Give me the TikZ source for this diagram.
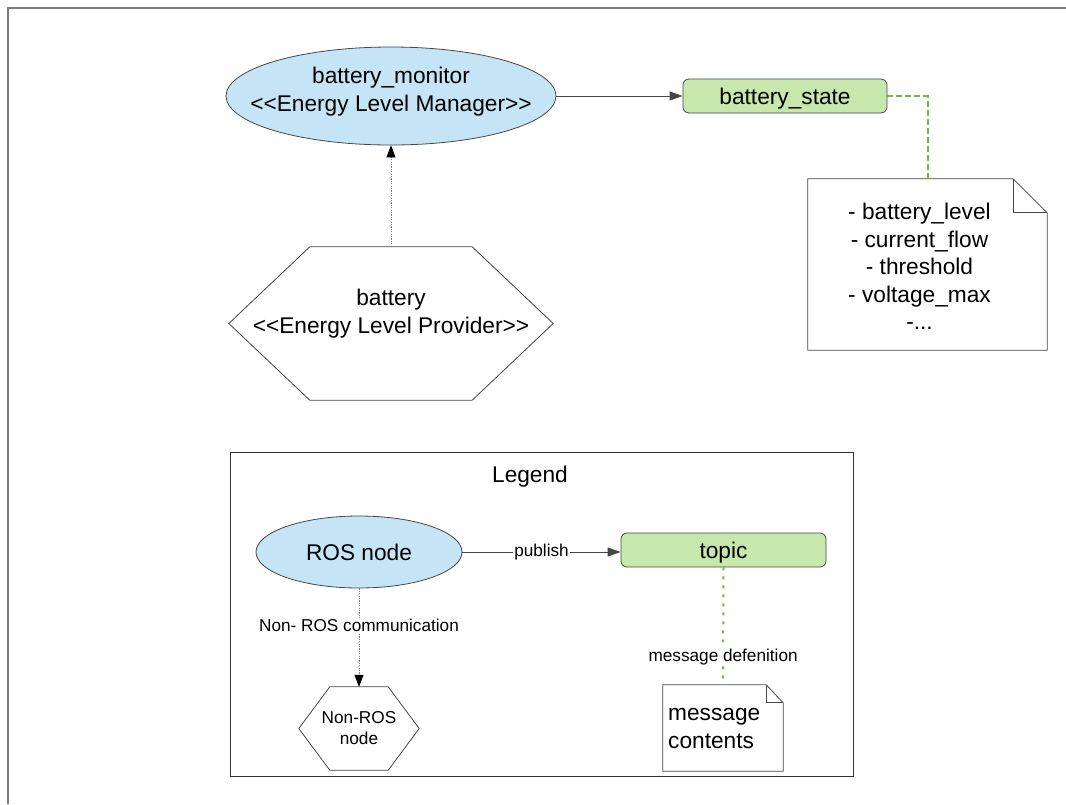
\documentclass[tikz,border=0pt]{standalone}
\usepackage{fontspec}
\setmainfont{Liberation Sans}
\usetikzlibrary{arrows.meta,shapes.geometric,calc}

\definecolor{rosblue}{RGB}{197,228,246}
\definecolor{topicgreen}{RGB}{199,232,172}
\definecolor{linkgreen}{RGB}{118,184,64}
\definecolor{edgegray}{RGB}{70,70,70}
\definecolor{framegray}{RGB}{125,125,125}

\begin{document}
\begin{tikzpicture}[x=1pt,y=-1pt,
  big/.style={font=\fontsize{22.7}{27.5}\selectfont},
  small/.style={font=\fontsize{17.2}{20.5}\selectfont},
  rosnode/.style={ellipse, draw=edgegray, fill=rosblue, line width=0.8pt, inner sep=0pt},
  topicbox/.style={rectangle, rounded corners=6pt, draw=edgegray, fill=topicgreen, line width=0.8pt, inner sep=0pt, big, text depth=0pt},
  frame/.style={rectangle, inner sep=0pt},
  outline/.style={draw=edgegray, fill=white, line width=0.8pt, line join=miter},
  notefold/.style={draw=edgegray, line width=0.8pt},
  pub/.style={draw=edgegray, line width=0.9pt, -{Triangle[length=13pt,width=9pt]}},
  dotlink/.style={draw=black!50, line width=0.6pt, dash pattern=on 1.2pt off 1.2pt, -{Triangle[length=12pt,width=9pt,color=black]}},
  msgdash/.style={draw=linkgreen, line width=2pt, dash pattern=on 6pt off 3pt},
  msgdot/.style={draw=linkgreen, line width=2pt, dash pattern=on 3pt off 6pt},
  tag/.style={small, fill=white, inner sep=1.5pt},
]
\useasboundingbox (0,0) rectangle (1066,804);

% outer page frame, running off the right and bottom edges
\draw[framegray, line width=1.5pt] (8,804) -- (8,8) -- (1066,8);

% ---------------- main diagram ----------------
\node[rosnode, minimum width=330pt, minimum height=98pt] (monitor) at (391,96) {};
\node[big, align=center, font=\fontsize{22.7}{28}\selectfont] (monitortext) at (391,92)
  {battery\_monitor\\<{}<Energy Level Manager>{}>};

\node[topicbox, minimum width=204pt, minimum height=34pt] (state) at (785,96) {battery\_state};

% message definition note with folded corner
\node[frame, minimum width=239pt, minimum height=171pt] (note1) at (927.5,264.5) {};
\draw[outline] (note1.north west) -- ($(note1.north east)+(-34,0)$) -- ($(note1.north east)+(0,34)$)
  -- (note1.south east) -- (note1.south west) -- cycle;
\draw[notefold] ($(note1.north east)+(-34,0)$) |- ($(note1.north east)+(0,34)$);
\node[big, align=center] (note1text) at (919.5,266.5)
  {- battery\_level\\- current\_flow\\- threshold\\- voltage\_max\\-...};

% hexagonal non-ROS node
\node[frame, minimum width=324pt, minimum height=153pt] (battery) at (391,323.5) {};
\draw[outline] (battery.west) -- ($(battery.north west)+(81,0)$) -- ($(battery.north east)+(-81,0)$)
  -- (battery.east) -- ($(battery.south east)+(-81,0)$) -- ($(battery.south west)+(81,0)$) -- cycle;
\node[big, align=center, font=\fontsize{22.7}{28}\selectfont] (batterytext) at (391,314)
  {battery\\<{}<Energy Level Provider>{}>};

\draw[pub] (monitor.east) -- (state.west);
\draw[msgdash] (state.east) -| (note1.north);
\draw[dotlink] (battery.north) -- (monitor.south);

% ---------------- legend ----------------
\node[frame, draw=black!80, line width=0.9pt, minimum width=623pt, minimum height=324pt] (legend) at (541.5,614) {};
\node[big] (legendtitle) at (530,477) {Legend};

\node[rosnode, big, minimum width=206pt, minimum height=72pt] (ros) at (359,552) {ROS node};
\node[topicbox, minimum width=205pt, minimum height=34pt] (topic) at (723.5,550) {topic};

\node[frame, minimum width=120pt, minimum height=83pt] (nonros) at (359,728.5) {};
\draw[outline] (nonros.west) -- ($(nonros.north west)+(31,0)$) -- ($(nonros.north east)+(-31,0)$)
  -- (nonros.east) -- ($(nonros.south east)+(-31,0)$) -- ($(nonros.south west)+(31,0)$) -- cycle;
\node[small, align=center] (nonrostext) at (359,728) {Non-ROS\\node};

\node[frame, minimum width=120pt, minimum height=86pt] (note2) at (723,728) {};
\draw[outline] (note2.north west) -- ($(note2.north east)+(-17,0)$) -- ($(note2.north east)+(0,18)$)
  -- (note2.south east) -- (note2.south west) -- cycle;
\draw[notefold] ($(note2.north east)+(-17,0)$) |- ($(note2.north east)+(0,18)$);
\node[big, align=left, anchor=west, inner sep=0pt] (note2text) at (668,728.5) {message\\contents};

\draw[pub] (ros.east) -- node[tag] {publish} (ros.east -| topic.west);
\draw[dotlink] (ros.south) -- node[tag, pos=0.38] {Non- ROS communication} (nonros.north);
\draw[msgdot] (topic.south) -- node[tag, pos=0.76] {message defenition} (note2.north);

\end{tikzpicture}
\end{document}
